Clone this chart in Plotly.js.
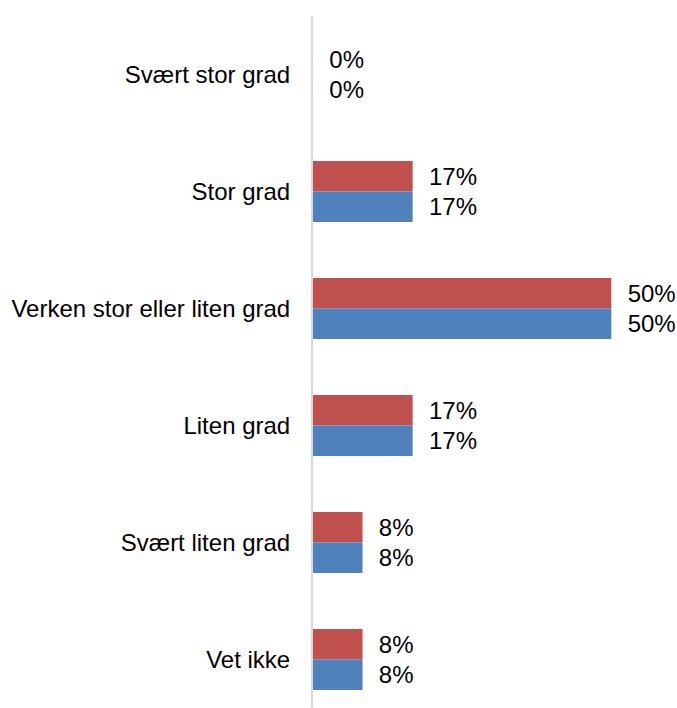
<!DOCTYPE html>
<html>
<head>
<meta charset="utf-8">
<script src="https://cdn.plot.ly/plotly-3.0.1.min.js"></script>
<style>html,body{margin:0;padding:0;background:#fff;}#chart{width:677px;height:708px;}</style>
</head>
<body>
<div id="chart"></div>
<script>
const categories = ["Svært stor grad", "Stor grad", "Verken stor eller liten grad", "Liten grad", "Svært liten grad", "Vet ikke"];
const seriesRed = [0, 16.7, 50, 16.7, 8.3, 8.3];
const seriesBlue = [0, 16.7, 50, 16.7, 8.3, 8.3];

const font = {family: "Liberation Sans, Arial, sans-serif", size: 24, color: "#000"};

function trace(vals, color) {
  return {
    type: "bar", orientation: "h",
    y: categories, x: vals,
    marker: {color: color, line: {width: 0}},
    texttemplate: "\u00a0\u00a0%{x:.0f}%",
    textposition: "outside",
    constraintext: "none",
    cliponaxis: false,
    textfont: font,
    hoverinfo: "skip"
  };
}

const data = [trace(seriesRed, "#C0504D"), trace(seriesBlue, "#4F81BD")];

const layout = {
  width: 677, height: 708,
  margin: {l: 313, r: 6, t: 16, b: 0, pad: 0},
  paper_bgcolor: "#fff", plot_bgcolor: "#fff",
  barmode: "group", bargap: 0.479, bargroupgap: 0,
  showlegend: false,
  font: font,
  xaxis: {range: [0, 60], visible: false, showgrid: false, zeroline: false},
  yaxis: {
    type: "category",
    range: [5.415, -0.5],
    showline: true, linecolor: "#D9D9D9", linewidth: 2,
    showgrid: false, zeroline: false,
    ticks: "", ticklabelstandoff: 16,
    tickfont: font
  }
};

Plotly.newPlot("chart", data, layout, {staticPlot: true, displayModeBar: false});
</script>
</body>
</html>
